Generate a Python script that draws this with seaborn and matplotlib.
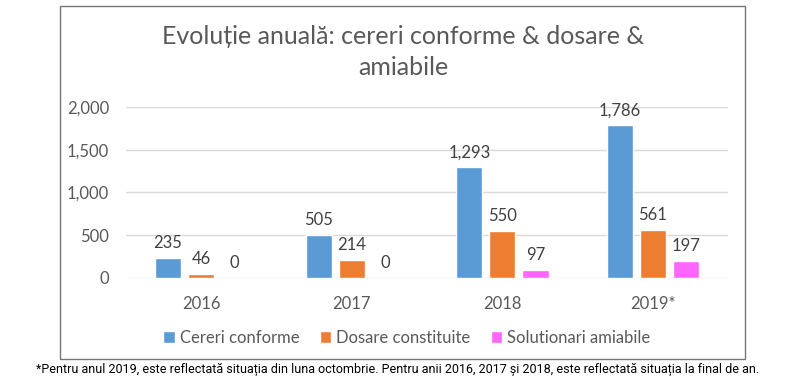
import pandas as pd
import numpy as np
import seaborn as sns
import matplotlib.pyplot as plt
from matplotlib.patches import Rectangle

# Data
ani = ["2016", "2017", "2018", "2019*"]
cereri_conforme = [235, 505, 1293, 1786]
dosare_constituite = [46, 214, 550, 561]
solutionari_amiabile = [0, 0, 97, 197]
serii = ["Cereri conforme", "Dosare constituite", "Solutionari amiabile"]
culori = ["#5B9BD5", "#ED7D31", "#FF66FF"]

df = pd.DataFrame({
    "an": ani * 3,
    "valoare": cereri_conforme + dosare_constituite + solutionari_amiabile,
    "serie": [s for s in serii for _ in ani],
})

sns.set_style("white")
plt.rcParams["font.family"] = ["Lato", "DejaVu Sans"]

fig = plt.figure(figsize=(7.96, 3.87), dpi=100)
ax = fig.add_axes([0.158, 0.2817, 0.757, 0.4419])

sns.barplot(
    data=df, x="an", y="valoare", hue="serie",
    palette=culori, width=0.66, gap=0.21,
    ax=ax, saturation=1,
)

handles, labels = ax.get_legend_handles_labels()
ax.get_legend().remove()

# value labels
for cont in ax.containers:
    vals = [p.get_height() for p in cont]
    ax.bar_label(cont, labels=[f"{v:,.0f}" for v in vals],
                 padding=5, fontsize=12, color="#404040")

ax.set_ylim(0, 2000)
ax.set_xlim(-0.5, 3.5)
ax.set_yticks([0, 500, 1000, 1500, 2000])
ax.set_yticklabels([f"{t:,}" for t in [0, 500, 1000, 1500, 2000]])
ax.yaxis.grid(True, color="#D9D9D9", linewidth=1)
ax.set_axisbelow(True)
for s in ax.spines.values():
    s.set_visible(False)
ax.tick_params(axis="both", length=0, labelsize=12, labelcolor="#595959")
ax.tick_params(axis="x", pad=13)
ax.tick_params(axis="y", pad=12)
ax.set_xlabel("")
ax.set_ylabel("")

# chart border
fig.patches.append(Rectangle((60 / 796, 1 - 359 / 387), 685 / 796, 353 / 387,
                             transform=fig.transFigure, fill=False,
                             edgecolor="#767676", linewidth=1))

fig.text(403 / 796, 1 - 52 / 387,
         "Evoluție anuală: cereri conforme & dosare &\namiabile",
         ha="center", va="center", fontsize=18, color="#595959",
         linespacing=1.45)

fig.legend(handles, labels, loc="center", bbox_to_anchor=(407 / 796, 1 - 338 / 387),
           ncol=3, frameon=False, fontsize=12, handlelength=0.7, handleheight=0.7,
           handletextpad=0.3, columnspacing=1.2, labelcolor="#595959")

fig.text(398 / 796, 1 - 369 / 387,
         "*Pentru anul 2019, este reflectată situația din luna octombrie. Pentru anii 2016, 2017 și 2018, este reflectată situația la final de an.",
         ha="center", va="center", fontsize=9, color="black",
         family=["Roboto", "DejaVu Sans"])

plt.savefig("out.png", dpi=100)
